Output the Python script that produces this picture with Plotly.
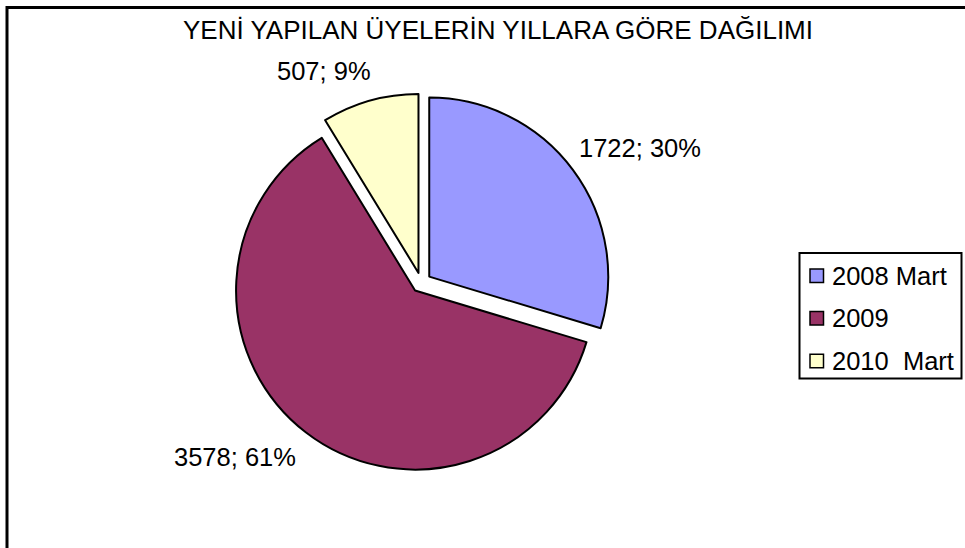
import plotly.graph_objects as go

# ---- data ----
categories = ["2008 Mart", "2009", "2010\u00a0 Mart"]
values = [1722, 3578, 507]
percent_labels = [30, 61, 9]
colors = ["#9999FF", "#993366", "#FFFFCC"]
title_text = "YENİ YAPILAN ÜYELERİN YILLARA GÖRE DAĞILIMI"

W, H = 965, 548
FONT = "Liberation Sans, Arial, sans-serif"

def px(x):
    return x / W

def py(y):
    return 1 - y / H

# pie geometry (layout)
cx, cy, r, pull = 421.2, 282.6, 179, 0.056
half = r * (1 + pull)

fig = go.Figure()
fig.add_trace(go.Pie(
    labels=categories,
    values=values,
    sort=False,
    direction="clockwise",
    rotation=0,
    pull=[pull] * len(values),
    marker=dict(colors=colors, line=dict(color="black", width=2)),
    textinfo="none",
    hoverinfo="label+value+percent",
    showlegend=False,
    domain=dict(x=[px(cx - half), px(cx + half)], y=[py(cy + half), py(cy - half)]),
))

annotations = []
# data labels (text from data)
label_pos = [(640, 148), (235, 457), (324, 71)]
for v, p, (lx, ly) in zip(values, percent_labels, label_pos):
    annotations.append(dict(
        x=px(lx), y=py(ly), xref="paper", yref="paper",
        text=f"{v}; {p}%", showarrow=False,
        xanchor="center", yanchor="middle",
        font=dict(family=FONT, size=25.5, color="black"),
    ))

shapes = []
# outer chart frame
shapes.append(dict(type="rect", xref="paper", yref="paper",
                   x0=px(7), y0=py(560), x1=px(980), y1=py(7.5),
                   line=dict(color="black", width=3), fillcolor="rgba(0,0,0,0)"))

# manual legend
lg_x0, lg_y0, lg_x1, lg_y1 = 799.5, 253, 961.5, 378.5
shapes.append(dict(type="rect", xref="paper", yref="paper",
                   x0=px(lg_x0), y0=py(lg_y1), x1=px(lg_x1), y1=py(lg_y0),
                   line=dict(color="black", width=2), fillcolor="white"))
item_y = [275.8, 318.3, 361]
sq = 13.5
for cat, col, yy in zip(categories, colors, item_y):
    shapes.append(dict(type="rect", xref="paper", yref="paper",
                       x0=px(810), y0=py(yy + sq / 2), x1=px(810 + sq), y1=py(yy - sq / 2),
                       line=dict(color="black", width=1.5), fillcolor=col))
    annotations.append(dict(
        x=px(830), y=py(yy), xref="paper", yref="paper",
        text=cat, showarrow=False, xanchor="left", yanchor="middle",
        font=dict(family=FONT, size=25.5, color="black"),
    ))

fig.update_layout(
    width=W, height=H,
    margin=dict(l=0, r=0, t=0, b=0),
    paper_bgcolor="white",
    plot_bgcolor="white",
    title=dict(text=title_text, x=px(498), xanchor="center",
               y=py(30), yanchor="middle",
               font=dict(family=FONT, size=26, color="black")),
    shapes=shapes,
    annotations=annotations,
    showlegend=False,
)

fig.write_html("out.html", config={"displayModeBar": False},
               post_script="document.body.style.margin='0px';")
